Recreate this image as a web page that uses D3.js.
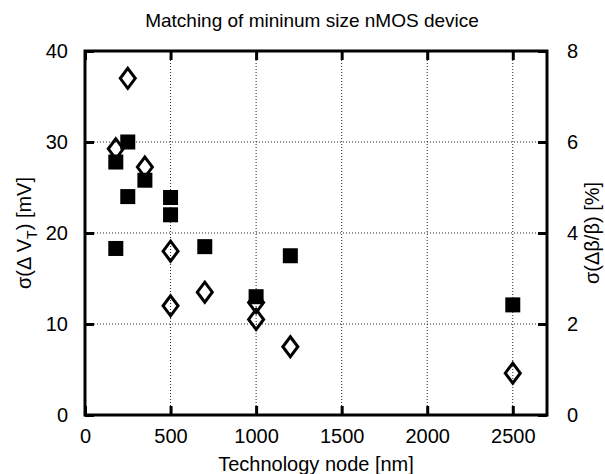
<!DOCTYPE html>
<html>
<head>
<meta charset="utf-8">
<script src="https://cdn.jsdelivr.net/npm/d3@7"></script>
<style>
  body { margin: 0; background: #fff; }
  text { font-family: "Liberation Sans", Arial, sans-serif; fill: #000; }
</style>
</head>
<body>
<div id="plot"></div>
<script>
// data: filled squares = sigma(dVt) [mV] on left axis, open diamonds = sigma(dB/B) [%] on right axis
const nodeVt = [180, 250, 350, 250, 500, 500, 180, 700, 1000, 1200, 2500];
const sigmaVt = [27.8, 30.0, 25.8, 24.0, 23.9, 22.0, 18.3, 18.5, 13.0, 17.5, 12.1];
const nodeBeta = [250, 180, 350, 500, 500, 700, 1000, 1000, 1200, 2500];
const sigmaBeta = [7.4, 5.85, 5.45, 3.6, 2.4, 2.7, 2.47, 2.1, 1.5, 0.92];
const xTicks = [0, 500, 1000, 1500, 2000, 2500];
const yLeftTicks = [0, 10, 20, 30, 40];
const yRightTicks = [0, 2, 4, 6, 8];

const W = 605, H = 474;
const margin = {top: 51, right: 58, bottom: 59, left: 85},
    width = W - margin.left - margin.right,
    height = H - margin.top - margin.bottom;

const svg = d3.select("#plot")
  .append("svg")
    .attr("width", W)
    .attr("height", H);

const g = svg.append("g")
    .attr("transform", "translate(" + margin.left + "," + margin.top + ")");

const x = d3.scaleLinear().domain([0, 2700]).range([0, width]);
const yL = d3.scaleLinear().domain([0, 40]).range([height, 0]);
const yR = d3.scaleLinear().domain([0, 8]).range([height, 0]);

// dotted grid
g.append("g").selectAll("line")
  .data(xTicks.filter(d => d > 0))
  .enter().append("line")
    .attr("x1", d => x(d)).attr("x2", d => x(d))
    .attr("y1", 0).attr("y2", height)
    .attr("stroke", "#222").attr("stroke-width", 1)
    .attr("stroke-dasharray", "1,2");
g.append("g").selectAll("line")
  .data(yLeftTicks.filter(d => d > 0 && d < 40))
  .enter().append("line")
    .attr("x1", 0).attr("x2", width)
    .attr("y1", d => yL(d)).attr("y2", d => yL(d))
    .attr("stroke", "#222").attr("stroke-width", 1)
    .attr("stroke-dasharray", "1,2");

// axes with inward ticks
function styleAxis(sel) {
  sel.select(".domain").remove();
  sel.selectAll(".tick line").attr("stroke", "#000").attr("stroke-width", 3);
  sel.selectAll(".tick text").style("font-size", "20px");
}

g.append("g")
    .attr("transform", "translate(0," + height + ")")
    .call(d3.axisBottom(x).tickValues(xTicks).tickSize(-9).tickPadding(14).tickFormat(d3.format("d")))
    .call(styleAxis);
g.append("g")
    .call(d3.axisTop(x).tickValues(xTicks).tickSize(-9).tickFormat(""))
    .call(styleAxis);
g.append("g")
    .call(d3.axisLeft(yL).tickValues(yLeftTicks).tickSize(-9).tickPadding(17))
    .call(styleAxis);
g.append("g")
    .attr("transform", "translate(" + width + ",0)")
    .call(d3.axisRight(yR).tickValues(yRightTicks).tickSize(-9).tickPadding(20))
    .call(styleAxis);

// frame
g.append("rect")
    .attr("width", width).attr("height", height)
    .attr("fill", "none").attr("stroke", "#000").attr("stroke-width", 3);

// diamonds
g.append("g").selectAll("path")
  .data(nodeBeta.map((n, i) => ({n: n, v: sigmaBeta[i]})))
  .enter().append("path")
    .attr("transform", d => "translate(" + x(d.n) + "," + yR(d.v) + ")")
    .attr("d", "M0,-10L7.5,0L0,10L-7.5,0Z")
    .attr("fill", "none")
    .attr("stroke", "#000")
    .attr("stroke-width", 3);

// squares
const sq = 15;
g.append("g").selectAll("rect")
  .data(nodeVt.map((n, i) => ({n: n, v: sigmaVt[i]})))
  .enter().append("rect")
    .attr("x", d => x(d.n) - sq / 2)
    .attr("y", d => yL(d.v) - sq / 2)
    .attr("width", sq).attr("height", sq)
    .attr("fill", "#000");

// titles
svg.append("text")
    .attr("x", margin.left + width / 2 - 4).attr("y", 27)
    .attr("text-anchor", "middle")
    .style("font-size", "19px")
    .text("Matching of mininum size nMOS device");

svg.append("text")
    .attr("x", margin.left + width / 2).attr("y", 471)
    .attr("text-anchor", "middle")
    .style("font-size", "20px")
    .text("Technology node [nm]");

const yl = svg.append("text")
    .attr("transform", "translate(31," + (margin.top + height / 2) + ") rotate(-90)")
    .attr("text-anchor", "middle")
    .style("font-size", "20px");
yl.append("tspan").text("σ(Δ V");
yl.append("tspan").attr("dy", 6).style("font-size", "14px").text("T");
yl.append("tspan").attr("dy", -6).text(") [mV]");

svg.append("text")
    .attr("transform", "translate(599," + (margin.top + height / 2) + ") rotate(-90)")
    .attr("text-anchor", "middle")
    .style("font-size", "20px")
    .text("σ(Δβ/β) [%]");
</script>
</body>
</html>
